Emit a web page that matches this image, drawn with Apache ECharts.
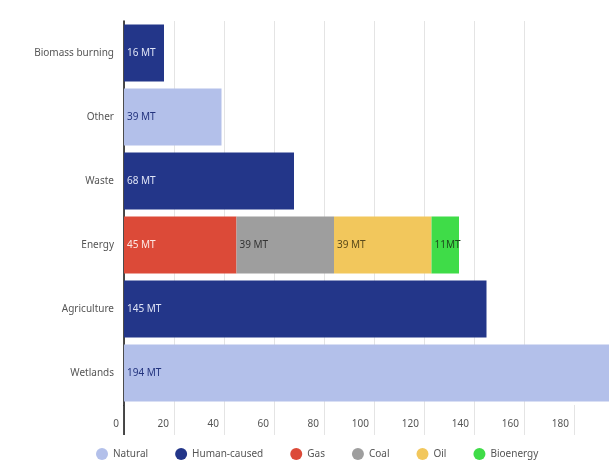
<!DOCTYPE html>
<html>
<head>
<meta charset="utf-8">
<script src="https://cdn.jsdelivr.net/npm/echarts@6/dist/echarts.min.js"></script>
<style>
  html, body { margin: 0; padding: 0; background: #fff; }
  #chart { width: 609px; height: 471px; }
</style>
</head>
<body>
<div id="chart"></div>
<script>
/* 数据 */
let categories = ['Wetlands', 'Agriculture', 'Energy', 'Waste', 'Other', 'Biomass burning'];
let natural = [194, '-', '-', '-', 39, '-'];
let humanCaused = ['-', 145, '-', 68, '-', 16];
let gas = ['-', '-', 45, '-', '-', '-'];
let coal = ['-', '-', 39, '-', '-', '-'];
let oil = ['-', '-', 39, '-', '-', '-'];
let bioenergy = ['-', '-', 11, '-', '-', '-'];
let xTicks = [0, 20, 40, 60, 80, 100, 120, 140, 160, 180];
/* 图被右侧裁掉，轴的可见部分到 194 为止 */
let xMax = 194;

let font = '"Noto Sans", "Open Sans", sans-serif';

let makeSeries = function (name, data, color, labelColor, unit) {
    return {
        name: name,
        type: 'bar',
        stack: 'total',
        data: data,
        barCategoryGap: '11%',
        itemStyle: { color: color },
        label: {
            show: true,
            position: 'insideLeft',
            distance: 3,
            color: labelColor,
            fontFamily: font,
            fontSize: 10,
            formatter: function (p) { return p.value + unit; }
        }
    };
};

let box = document.getElementById('chart');
let myChart = echarts.init(box);
let options = {
    animation: false,
    textStyle: { fontFamily: font },
    grid: { left: 124, right: 0, top: 21, bottom: 66, containLabel: false },
    legend: {
        bottom: 6,
        left: 91,
        icon: 'circle',
        itemWidth: 12,
        itemHeight: 12,
        itemGap: 27,
        textStyle: { color: '#555', fontSize: 10, fontFamily: font },
        data: ['Natural', 'Human-caused', 'Gas', 'Coal', 'Oil', 'Bioenergy']
    },
    xAxis: {
        type: 'value',
        min: xTicks[0],
        max: xMax,
        interval: 20,
        axisLine: { show: false },
        axisTick: { show: true, length: 30, customValues: xTicks, lineStyle: { color: '#e4e4e4' } },
        splitLine: { show: true, showMaxLine: false, lineStyle: { color: '#e4e4e4' } },
        axisLabel: {
            align: 'right',
            margin: 14,
            padding: [0, 5, 0, 0],
            color: '#555',
            fontSize: 10,
            fontFamily: font,
            customValues: xTicks
        }
    },
    yAxis: {
        type: 'category',
        data: categories,
        axisLine: { show: true, lineStyle: { color: '#111', width: 1.5 } },
        axisTick: { show: false },
        axisLabel: { color: '#555', fontSize: 10, margin: 10, fontFamily: font }
    },
    series: [
        makeSeries('Natural', natural, '#b3c0ea', '#23337e', ' MT'),
        makeSeries('Human-caused', humanCaused, '#233689', '#dfe4f6', ' MT'),
        makeSeries('Gas', gas, '#dc4a38', '#fde9e4', ' MT'),
        makeSeries('Coal', coal, '#9e9e9e', '#333', ' MT'),
        makeSeries('Oil', oil, '#f2c75c', '#5a4a1a', ' MT'),
        makeSeries('Bioenergy', bioenergy, '#3fdc48', '#1d4a1d', 'MT')
    ]
};
myChart.setOption(options);

/* 让纵轴线延伸到刻度区域 */
let p0 = myChart.convertToPixel({ gridIndex: 0 }, [0, categories[0]]);
let band = myChart.convertToPixel({ gridIndex: 0 }, [0, categories[0]])[1] -
    myChart.convertToPixel({ gridIndex: 0 }, [0, categories[1]])[1];
let yBottom = p0[1] + band / 2;
myChart.setOption({
    graphic: [{
        type: 'line',
        shape: { x1: p0[0], y1: yBottom, x2: p0[0], y2: yBottom + 30 },
        style: { stroke: '#111', lineWidth: 1.5 },
        z: 10
    }]
});
</script>
</body>
</html>
